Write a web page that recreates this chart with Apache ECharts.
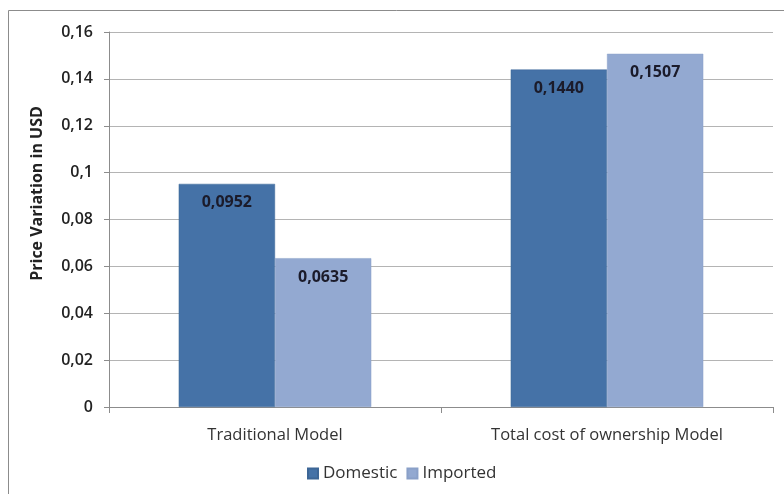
<!DOCTYPE html>
<html>
<head>
<meta charset="utf-8">
<script src="https://cdn.jsdelivr.net/npm/echarts@6/dist/echarts.min.js"></script>
<style>html,body{margin:0;padding:0;background:#fff}#c{width:784px;height:494px}</style>
</head>
<body>
<div id="c"></div>
<script>
const categories = ['Traditional Model', 'Total cost of ownership Model'];
const seriesNames = ['Domestic', 'Imported'];
const domestic = [0.0952, 0.1440];
const imported = [0.0635, 0.1507];
const yTicks = [0, 0.02, 0.04, 0.06, 0.08, 0.1, 0.12, 0.14, 0.16];

const chart = echarts.init(document.getElementById('c'));
const fmt = v => String(v).replace('.', ',');
const labelCfg = {
  show: true, position: 'insideTop', distance: 11,
  fontFamily: 'Open Sans', fontSize: 16, fontWeight: 'bold', color: '#1b1b2a',
  formatter: p => p.value.toFixed(4).replace('.', ',')
};
chart.setOption({
  animation: false,
  backgroundColor: '#fff',
  graphic: [{
    type: 'rect', shape: {x: 8.5, y: 10.5, width: 800, height: 500},
    style: {fill: 'none', stroke: '#8c8c8c', lineWidth: 1}, silent: true
  }],
  grid: {left: 109, right: 11, top: 32, bottom: 87},
  legend: {
    data: seriesNames, bottom: 7, left: 302, itemWidth: 10, itemHeight: 10, itemGap: 9,
    icon: 'rect',
    textStyle: {fontFamily: 'Open Sans', fontSize: 17, color: '#333'}
  },
  xAxis: {
    type: 'category', data: categories,
    axisLine: {lineStyle: {color: '#8c8c8c'}},
    axisTick: {show: true, length: 6, lineStyle: {color: '#8c8c8c'}},
    axisLabel: {margin: 20, fontFamily: 'Open Sans', fontSize: 16.5, color: '#333'}
  },
  yAxis: {
    type: 'value', min: 0, max: 0.16, interval: 0.02,
    name: 'Price Variation in USD', nameLocation: 'middle', nameGap: 64,
    nameTextStyle: {fontFamily: 'Open Sans', fontSize: 16, fontWeight: 'bold', color: '#222', padding: [0, 0, 0, 52]},
    axisLine: {show: true, lineStyle: {color: '#8c8c8c'}},
    axisTick: {show: true, length: 5, lineStyle: {color: '#8c8c8c'}},
    splitLine: {lineStyle: {color: '#b4b4b4'}},
    axisLabel: {margin: 16, fontFamily: 'Open Sans', fontSize: 16, fontWeight: 600, color: '#222',
      formatter: v => fmt(+v.toFixed(2))}
  },
  series: [
    {name: seriesNames[0], type: 'bar', data: domestic, barGap: '0%', barCategoryGap: '42%',
      itemStyle: {color: '#4572A7', borderColor: '#3d6696', borderWidth: 0.5}, label: labelCfg},
    {name: seriesNames[1], type: 'bar', data: imported,
      itemStyle: {color: '#93A9D1', borderColor: '#8aa0c8', borderWidth: 0.5}, label: labelCfg}
  ]
});
</script>
</body>
</html>
